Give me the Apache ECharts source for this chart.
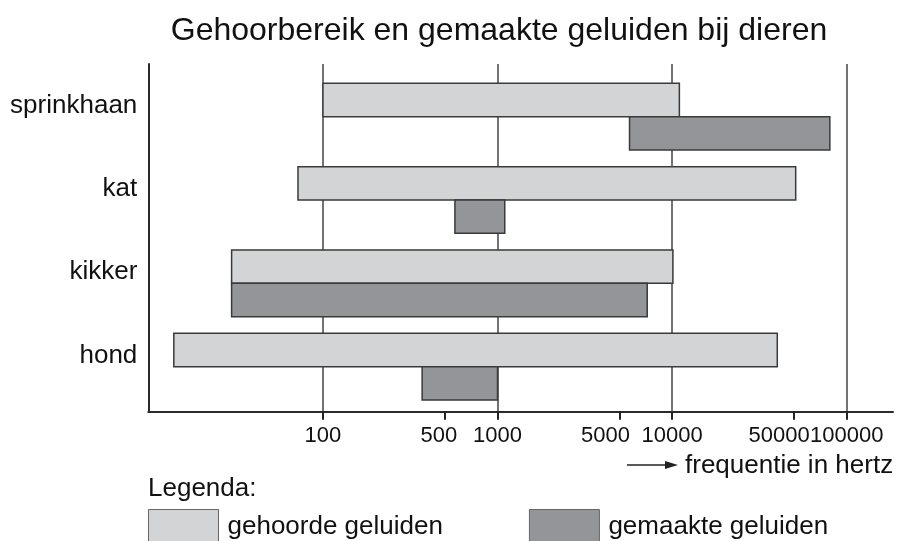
<!DOCTYPE html>
<html>
<head>
<meta charset="utf-8">
<script src="https://cdn.jsdelivr.net/npm/echarts@6/dist/echarts.min.js"></script>
<style>html,body{margin:0;padding:0;background:#fff}#c{width:903px;height:541px}</style>
</head>
<body>
<div id="c"></div>
<script>
const categories = ['sprinkhaan', 'kat', 'kikker', 'hond'];
const heardLow = [100, 72, 30, 14];
const heardHigh = [11000, 51000, 10100, 40000];
const madeLow = [5700, 570, 30, 370];
const madeHigh = [80000, 1100, 7200, 1000];
const tickValues = [100, 500, 1000, 5000, 10000, 50000, 100000];
const axisMin = 10;
const axisMax = 184000;

const FONT = 'Liberation Sans, Arial, Helvetica, sans-serif';
const LIGHT = '#d3d4d6';
const DARK = '#939598';
const EDGE = '#3a3a3a';

const heardData = categories.map((c, i) => [heardLow[i], i, heardHigh[i]]);
const madeData = categories.map((c, i) => [madeLow[i], i, madeHigh[i]]);

function makeRender(above) {
  return function (params, api) {
    const ci = api.value(1);
    const p0 = api.coord([api.value(0), ci]);
    const p1 = api.coord([api.value(2), ci]);
    const band = api.size([1, 1])[1];
    const h = band * 0.4;
    const y = above ? p0[1] - h : p0[1];
    return {
      type: 'rect',
      shape: { x: p0[0], y: y, width: p1[0] - p0[0], height: h },
      style: api.style()
    };
  };
}

const shiftMap = { 500: 's1', 5000: 's2', 50000: 's3' };

const chart = echarts.init(document.getElementById('c'), null, { renderer: 'canvas' });
chart.setOption({
  backgroundColor: '#fff',
  animation: false,
  title: [
    { text: 'Gehoorbereik en gemaakte geluiden bij dieren', left: 499, top: 15, textAlign: 'center', padding: 0,
      textStyle: { fontFamily: FONT, fontSize: 32, fontWeight: 'normal', color: '#111' } },
    { text: 'frequentie in hertz', left: 685, top: 453, padding: 0,
      textStyle: { fontFamily: FONT, fontSize: 26, fontWeight: 'normal', color: '#111' } },
    { text: 'Legenda:', left: 148, top: 476, padding: 0,
      textStyle: { fontFamily: FONT, fontSize: 26, fontWeight: 'normal', color: '#111' } }
  ],
  graphic: [
    { type: 'line', shape: { x1: 627, y1: 465, x2: 668, y2: 465 }, style: { stroke: '#222', lineWidth: 1.5 } },
    { type: 'polygon', shape: { points: [[665, 461], [678, 465], [665, 469]] }, style: { fill: '#222' } }
  ],
  legend: {
    left: 148, top: 509, padding: 0,
    itemWidth: 70, itemHeight: 34, itemGap: 86,
    selectedMode: false,
    textStyle: { fontFamily: FONT, fontSize: 26, color: '#111', padding: [0, 0, 0, 4] },
    data: [
      { name: 'gehoorde geluiden', icon: 'rect', itemStyle: { color: LIGHT, borderColor: '#666', borderWidth: 1 } },
      { name: 'gemaakte geluiden', icon: 'rect', itemStyle: { color: DARK, borderColor: '#666', borderWidth: 1 } }
    ]
  },
  grid: [
    { left: 148.3, right: 10, top: 64, bottom: 129.3 },
    { left: 148.3, right: 10, top: 75, bottom: 132.7 }
  ],
  xAxis: [
    {
      gridIndex: 0, type: 'log', logBase: 10, min: axisMin, max: axisMax,
      axisLine: { show: true, lineStyle: { color: '#2a2a2a', width: 2 } },
      axisTick: { show: false },
      axisLabel: { show: false },
      splitLine: { show: true, showMinLine: false, showMaxLine: false, lineStyle: { color: '#444', width: 1.5 } }
    },
    {
      gridIndex: 1, type: 'log', logBase: 10, min: axisMin, max: axisMax, offset: 3.4,
      axisLine: { show: false },
      axisTick: { show: true, customValues: tickValues, length: 8, lineStyle: { color: '#222', width: 2 } },
      axisLabel: {
        customValues: tickValues, margin: 13, fontFamily: FONT, fontSize: 22, color: '#111',
        formatter: function (v) {
          const k = shiftMap[Math.round(v)];
          return k ? '{' + k + '|' + Math.round(v) + '}' : String(Math.round(v));
        },
        rich: {
          s1: { fontFamily: FONT, fontSize: 22, color: '#111', padding: [0, 12, 0, 0] },
          s2: { fontFamily: FONT, fontSize: 22, color: '#111', padding: [0, 28, 0, 0] },
          s3: { fontFamily: FONT, fontSize: 22, color: '#111', padding: [0, 30, 0, 0] }
        }
      },
      splitLine: { show: false }
    }
  ],
  yAxis: [
    {
      gridIndex: 0, type: 'value',
      axisLine: { show: true, lineStyle: { color: '#2a2a2a', width: 2 } },
      axisTick: { show: false }, axisLabel: { show: false }, splitLine: { show: false }
    },
    {
      gridIndex: 1, type: 'category', data: categories, inverse: true,
      axisLine: { show: false }, axisTick: { show: false }, splitLine: { show: false },
      axisLabel: { fontFamily: FONT, fontSize: 26, color: '#111', margin: 11, verticalAlign: 'bottom', lineHeight: 22 }
    }
  ],
  series: [
    {
      name: 'gehoorde geluiden', type: 'custom', xAxisIndex: 1, yAxisIndex: 1,
      renderItem: makeRender(true), encode: { x: [0, 2], y: 1 },
      itemStyle: { color: LIGHT, borderColor: EDGE, borderWidth: 1.5 },
      data: heardData, z: 3
    },
    {
      name: 'gemaakte geluiden', type: 'custom', xAxisIndex: 1, yAxisIndex: 1,
      renderItem: makeRender(false), encode: { x: [0, 2], y: 1 },
      itemStyle: { color: DARK, borderColor: EDGE, borderWidth: 1.5 },
      data: madeData, z: 3
    }
  ]
});
</script>
</body>
</html>
